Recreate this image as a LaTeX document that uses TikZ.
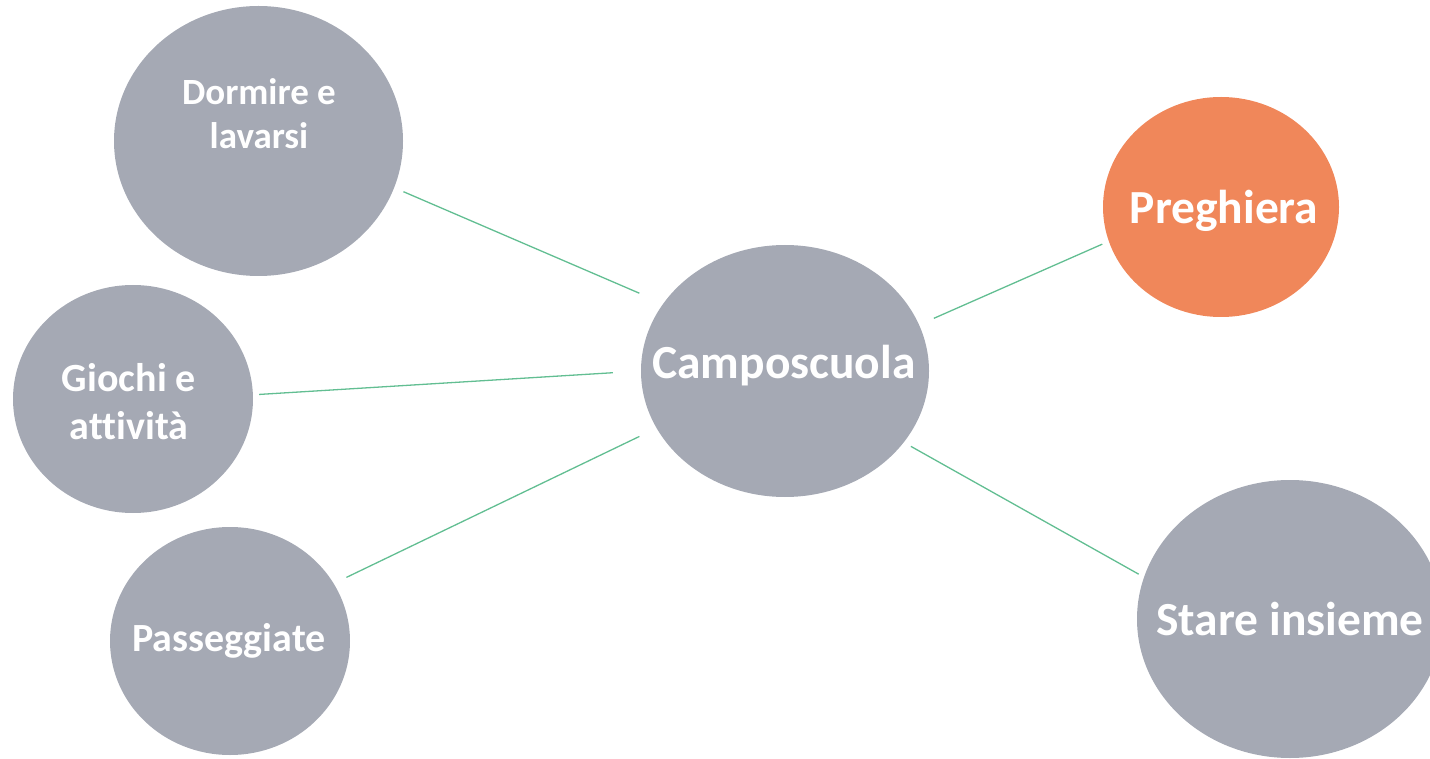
\documentclass[tikz,border=0pt]{standalone}
\usepackage{fontspec}
\setmainfont{Carlito}[Ligatures=CommonOff]
\usetikzlibrary{shapes.geometric}
\definecolor{bubblegrey}{HTML}{A5A9B4}
\definecolor{bubbleorange}{HTML}{F0875A}
\definecolor{linkgreen}{HTML}{62BE92}
\tikzset{
  bubble/.style={ellipse, fill=bubblegrey, draw=none, inner sep=0pt},
  label text/.style={text=white, align=center, inner sep=0pt},
  bigtext/.style={font=\fontsize{47.5}{52}\selectfont\bfseries},
  smalltext/.style={font=\fontsize{40}{48}\selectfont\bfseries},
  dormtext/.style={font=\fontsize{37}{44}\selectfont\bfseries},
  link/.style={draw=linkgreen, line width=1.3pt}
}
\begin{document}
\begin{tikzpicture}[x=1pt, y=-1pt]
\useasboundingbox (0,0) rectangle (1430,759);
\clip (0,0) rectangle (1430,759);
\node[bubble, minimum width=289pt, minimum height=270pt] (dorm) at (258.5,141) {};
\node[bubble, minimum width=240pt, minimum height=228pt] (gioc) at (133,399) {};
\node[bubble, minimum width=240pt, minimum height=228pt] (pass) at (230,641) {};
\node[bubble, minimum width=288pt, minimum height=252pt] (campo) at (785,371) {};
\node[bubble, fill=bubbleorange, minimum width=236pt, minimum height=220pt] (preg) at (1221,207) {};
\node[bubble, minimum width=306pt, minimum height=278pt] (stare) at (1290,619) {};
\node[label text, dormtext] (dormtxt) at (259,114) {Dormire e\\lavarsi};
\node[label text, smalltext] (gioctxt) at (129,402) {Giochi e\\attività};
\node[label text, smalltext] (passtxt) at (229,641) {Passeggiate};
\node[label text, bigtext] (campotxt) at (784,366) {Camposcuola};
\node[label text, bigtext] (pregtxt) at (1224,211) {Preghiera};
\node[label text, bigtext] (staretxt) at (1290,619) {Stare insieme};
\draw[link, shorten <=10pt, shorten >=26pt] (dorm.-19.8) -- (campo.151.4);
\draw[link, shorten <=6pt, shorten >=28pt] (gioc.2.3) -- (campo.180);
\draw[link, shorten <=14pt, shorten >=19pt] (pass.29.5) -- (campo.204.5);
\draw[link, shorten <=16pt, shorten >=7pt] (campo.19.7) -- (preg.197.7);
\draw[link, shorten <=8pt, shorten >=6pt] (campo.-31.3) -- (stare.164.2);
\end{tikzpicture}
\end{document}
